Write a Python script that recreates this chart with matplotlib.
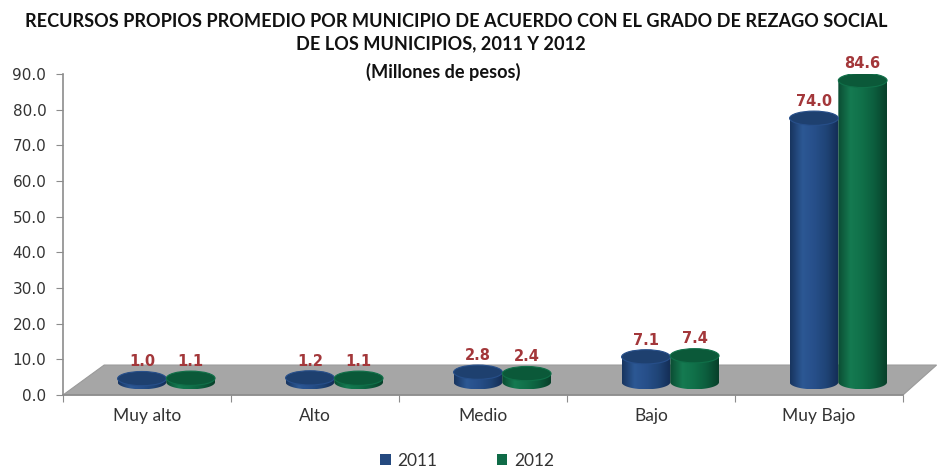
import numpy as np
import matplotlib.pyplot as plt
from matplotlib.patches import Polygon, Ellipse, PathPatch, Patch
from matplotlib.path import Path
from matplotlib.colors import LinearSegmentedColormap

# data
categories = ["Muy alto", "Alto", "Medio", "Bajo", "Muy Bajo"]
values_2011 = [1.0, 1.2, 2.8, 7.1, 74.0]
values_2012 = [1.1, 1.1, 2.4, 7.4, 84.6]
series_labels = ["2011", "2012"]
y_ticks = [0, 10, 20, 30, 40, 50, 60, 70, 80, 90]

title_lines = ["RECURSOS PROPIOS PROMEDIO POR MUNICIPIO DE ACUERDO CON EL GRADO DE REZAGO SOCIAL",
               "DE LOS MUNICIPIOS, 2011 Y 2012",
               "(Millones de pesos)"]

# styling
body_colors = {
    "2011": ["#183560", "#2c5894", "#274f8a", "#1f4476", "#142d55"],
    "2012": ["#0b4d33", "#157a51", "#107049", "#0c5d3d", "#08402a"],
}
top_colors = {"2011": "#1e406f", "2012": "#0b5939"}
legend_colors = {"2011": "#24497f", "2012": "#0f6b47"}
label_color = "#a3373a"
text_color = "#333333"

bar_w = 0.29        # width of one cylinder (x units)
ell_h = 4.0         # height of the ellipses (y units)
base = 3.6          # where the cylinders stand on the floor
shift = 0.115       # depth shift of the cylinders to the right

fig = plt.figure(figsize=(9.38, 4.73), dpi=100)
ax = fig.add_axes([63 / 938, 1 - 395 / 473, 840 / 938, 321 / 473])
ax.set_xlim(0, 5)
ax.set_ylim(0, 90)

# grey floor
floor = Polygon([(0, 0), (5, 0), (5.2, 8.4), (0.245, 8.4)], closed=True,
                facecolor="#a6a6a6", edgecolor="#9a9a9a", lw=0.8,
                zorder=1, clip_on=False)
ax.add_patch(floor)


def cylinder(xc, h, series):
    x0, x1 = xc - bar_w / 2, xc + bar_w / 2
    top = base + h
    # body outline: straight sides plus the lower half of the base ellipse
    t = np.linspace(np.pi, 2 * np.pi, 40)
    ex = xc + bar_w / 2 * np.cos(t)
    ey = base + ell_h / 2 * np.sin(t)
    verts = [(x0, top)] + list(zip(ex, ey)) + [(x1, top), (x0, top)]
    codes = [Path.MOVETO] + [Path.LINETO] * (len(verts) - 2) + [Path.CLOSEPOLY]
    body = PathPatch(Path(verts, codes), facecolor="none", edgecolor="none",
                     zorder=3)
    ax.add_patch(body)
    cmap = LinearSegmentedColormap.from_list("c", body_colors[series])
    grad = np.linspace(0, 1, 64).reshape(1, -1)
    im = ax.imshow(grad, cmap=cmap, aspect="auto", zorder=3,
                   extent=(x0, x1, base - ell_h / 2, top), interpolation="bilinear")
    im.set_clip_path(body)
    cap = Ellipse((xc, top), bar_w, ell_h, facecolor=top_colors[series],
                  edgecolor=body_colors[series][2], lw=0.8, zorder=4)
    ax.add_patch(cap)
    return top


for i, cat in enumerate(categories):
    center = i + 0.5 + shift
    for j, (series, vals) in enumerate(zip(series_labels, [values_2011, values_2012])):
        xc = center + (j - 0.5) * bar_w
        top = cylinder(xc, vals[i], series)
        ax.text(xc, top + ell_h / 2 + 0.6, f"{vals[i]:.1f}", ha="center",
                va="bottom", color=label_color, fontsize=10.5,
                fontweight="bold", zorder=5, clip_on=False)

ax.set_xlim(0, 5)
ax.set_ylim(0, 90)

# axes look
for s in ["top", "right"]:
    ax.spines[s].set_visible(False)
for s in ["left", "bottom"]:
    ax.spines[s].set_color("#8c8c8c")
    ax.spines[s].set_linewidth(1.2)
ax.set_yticks(y_ticks)
ax.set_yticklabels([f"{v:.1f}" for v in y_ticks])
ax.set_xticks(np.arange(6))
ax.set_xticklabels([])
ax.set_xticks(np.arange(5) + 0.5, categories, minor=True)
ax.tick_params(axis="x", which="major", direction="out", length=5,
               color="#8c8c8c")
ax.tick_params(axis="x", which="minor", length=0, pad=9, labelsize=12.5,
               labelcolor=text_color)
for lab in ax.get_xticklabels(minor=True):
    lab.set_family(["Lato", "DejaVu Sans"])
ax.tick_params(axis="y", direction="out", length=5, color="#8c8c8c",
               pad=7, labelsize=11, labelcolor=text_color)

# title: three lines, sized so the first line matches the reference width
renderer = fig.canvas.get_renderer()
line_y = [21, 44, 72]
line_x = [456, 441, 443]
t0 = fig.text(line_x[0] / 938, 1 - line_y[0] / 473, title_lines[0], ha="center",
              va="center", fontsize=13, fontweight="bold", color="#111111",
              family=["Lato", "DejaVu Sans"])
w = t0.get_window_extent(renderer).width
fs = 13 * 863 / w
t0.set_fontsize(fs)
for k in (1, 2):
    fig.text(line_x[k] / 938, 1 - line_y[k] / 473, title_lines[k], ha="center",
             va="center", fontsize=fs, fontweight="bold", color="#111111",
             family=["Lato", "DejaVu Sans"])

handles = [Patch(facecolor=legend_colors[s], edgecolor="none") for s in series_labels]
leg = fig.legend(handles, series_labels, loc="center", ncol=2, frameon=False,
                 bbox_to_anchor=(467 / 938, 1 - 461 / 473), handlelength=0.6,
                 handleheight=0.6, handletextpad=0.4, columnspacing=3.4,
                 prop={"family": ["Lato", "DejaVu Sans"], "size": 12.5})
for txt in leg.get_texts():
    txt.set_color(text_color)

fig.savefig("out.png", dpi=100)
